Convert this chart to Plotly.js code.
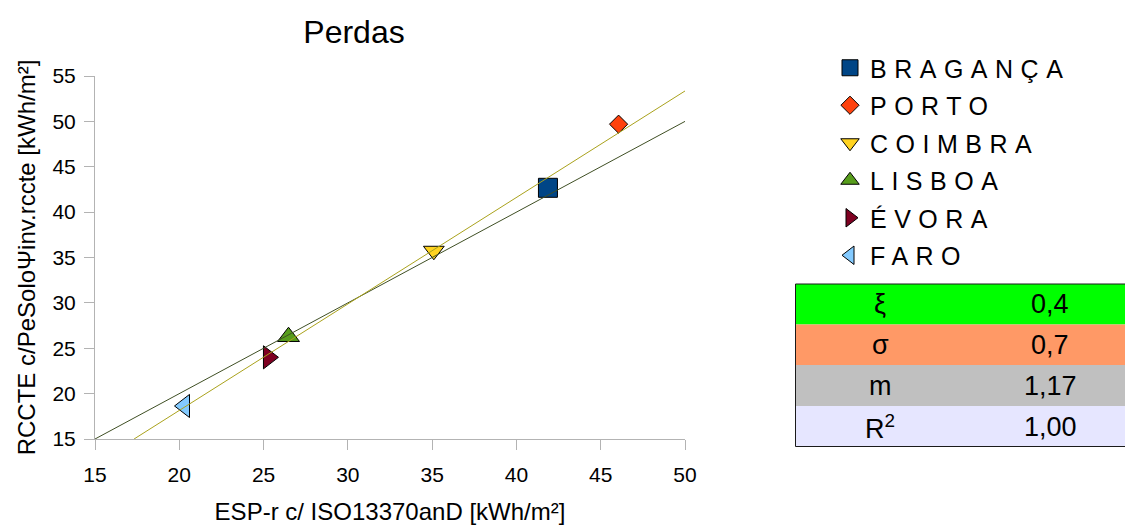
<!DOCTYPE html>
<html>
<head>
<meta charset="utf-8">
<script src="https://cdn.plot.ly/plotly-3.0.1.min.js"></script>
<style>
  html, body { margin: 0; padding: 0; background: #fff; }
  #chart { width: 1125px; height: 525px; }
  .legendtext { letter-spacing: 7.5px; }
</style>
</head>
<body>
<div id="chart"></div>
<script>
// ---- Data ----
const cities = ['BRAGANÇA', 'PORTO', 'COIMBRA', 'LISBOA', 'ÉVORA', 'FARO'];
const esprValues = [41.87, 46.06, 35.10, 26.48, 25.29, 20.31];   // ESP-r c/ ISO13370anD [kWh/m²]
const rccteValues = [42.68, 49.69, 35.74, 26.27, 24.00, 18.64];  // RCCTE c/PeSoloΨinv.rccte [kWh/m²]
const xTicks = [15, 20, 25, 30, 35, 40, 45, 50];
const yTicks = [15, 20, 25, 30, 35, 40, 45, 50, 55];
const statSymbols = ['ξ', 'σ', 'm', 'R<sup>2</sup>'];
const statValues = ['0,4', '0,7', '1,17', '1,00'];

// ---- Styles ----
const markerColors = ['#004586', '#ff420e', '#ffd320', '#579d1c', '#7e0021', '#83caff'];
const markerSymbols = ['square', 'diamond', 'triangle-down', 'triangle-up', 'triangle-right', 'triangle-left'];
const markerSizes = [19, 14, 18, 19, 20, 20];
const statFills = ['#00ff00', '#ff9966', '#c0c0c0', '#e6e6ff'];

const xRange = [xTicks[0], xTicks[xTicks.length - 1]];
const yRange = [yTicks[0], yTicks[yTicks.length - 1]];

// least-squares fit of the data
const n = esprValues.length;
const mx = esprValues.reduce((a, b) => a + b, 0) / n;
const my = rccteValues.reduce((a, b) => a + b, 0) / n;
let sxy = 0, sxx = 0;
for (let i = 0; i < n; i++) { sxy += (esprValues[i] - mx) * (rccteValues[i] - my); sxx += (esprValues[i] - mx) ** 2; }
const slope = sxy / sxx;
const intercept = my - slope * mx;
const fitX0 = (yRange[0] - intercept) / slope;

const traces = cities.map((c, i) => ({
  type: 'scatter', mode: 'markers', name: c, legendgroup: c,
  x: [esprValues[i]], y: [rccteValues[i]],
  marker: { symbol: markerSymbols[i], size: markerSizes[i], color: markerColors[i], line: { color: '#000', width: 1 } },
  cliponaxis: false
}));

traces.push({
  type: 'scatter', mode: 'lines', name: 'y = x', showlegend: false, hoverinfo: 'skip',
  x: xRange, y: xRange, line: { color: '#3f4f24', width: 1 }
});
traces.push({
  type: 'scatter', mode: 'lines', name: 'fit', showlegend: false, hoverinfo: 'skip',
  x: [fitX0, xRange[1]], y: [yRange[0], intercept + slope * xRange[1]],
  line: { color: '#aaa21c', width: 1 }
});

// ---- Statistics table (shapes + annotations) ----
const pxToPx = (px) => (px - 95) / 590;
const pyToPy = (py) => (439 - py) / 363;
const rowEdges = [284, 324.5, 365, 406, 447];
const shapes = [];
const annotations = [];
statSymbols.forEach((s, i) => {
  shapes.push({ type: 'rect', xref: 'paper', yref: 'paper', x0: pxToPx(795), x1: pxToPx(1130),
    y0: pyToPy(rowEdges[i + 1]), y1: pyToPy(rowEdges[i]), fillcolor: statFills[i], line: { width: 0 }, layer: 'below' });
  const yc = pyToPy((rowEdges[i] + rowEdges[i + 1]) / 2);
  annotations.push({ xref: 'paper', yref: 'paper', x: pxToPx(880), y: yc, text: s, showarrow: false,
    xanchor: 'center', yanchor: 'middle', font: { size: 27, color: '#000' } });
  annotations.push({ xref: 'paper', yref: 'paper', x: pxToPx(1050), y: yc, text: statValues[i], showarrow: false,
    xanchor: 'center', yanchor: 'middle', font: { size: 27, color: '#000' } });
});
shapes.push({ type: 'rect', xref: 'paper', yref: 'paper', x0: pxToPx(795.5), x1: pxToPx(1135),
  y0: pyToPy(446.5), y1: pyToPy(284), line: { color: '#1a1a1a', width: 1 }, fillcolor: 'rgba(0,0,0,0)' });

const layout = {
  width: 1125, height: 525,
  margin: { l: 95, r: 440, t: 76, b: 86 },
  paper_bgcolor: '#ffffff', plot_bgcolor: '#ffffff',
  font: { family: '"Liberation Sans", Arial, sans-serif', color: '#000' },
  title: { text: 'Perdas', font: { size: 32, color: '#000' }, x: 354 / 1125, xanchor: 'center',
    y: 1 - 32 / 525, yanchor: 'middle', xref: 'container', yref: 'container' },
  xaxis: {
    range: xRange, tickvals: xTicks, ticktext: xTicks.map(String),
    showgrid: false, zeroline: false, showline: true, linecolor: '#b3b3b3', linewidth: 1,
    ticks: 'outside', ticklen: 10, tickcolor: '#b3b3b3', ticklabelstandoff: 7,
    tickfont: { size: 21, color: '#000' },
    title: { text: 'ESP-r c/ ISO13370anD [kWh/m²]', font: { size: 24, color: '#000' }, standoff: 19 }
  },
  yaxis: {
    range: yRange, tickvals: yTicks, ticktext: yTicks.map(String),
    showgrid: false, zeroline: false, showline: true, linecolor: '#b3b3b3', linewidth: 1,
    ticks: 'outside', ticklen: 10, tickcolor: '#b3b3b3', ticklabelstandoff: 4,
    tickfont: { size: 21, color: '#000' },
    title: { text: 'RCCTE c/PeSoloΨinv.rccte [kWh/m²]', font: { size: 24, color: '#000' }, standoff: 10 }
  },
  showlegend: true,
  legend: {
    x: pxToPx(830), xanchor: 'left', y: pyToPy(45), yanchor: 'top',
    font: { size: 25, color: '#000' }, bgcolor: 'rgba(0,0,0,0)', borderwidth: 0,
    tracegroupgap: 2, itemclick: false, itemdoubleclick: false
  },
  shapes: shapes,
  annotations: annotations
};

Plotly.newPlot('chart', traces, layout, { displayModeBar: false, staticPlot: true });
</script>
</body>
</html>
